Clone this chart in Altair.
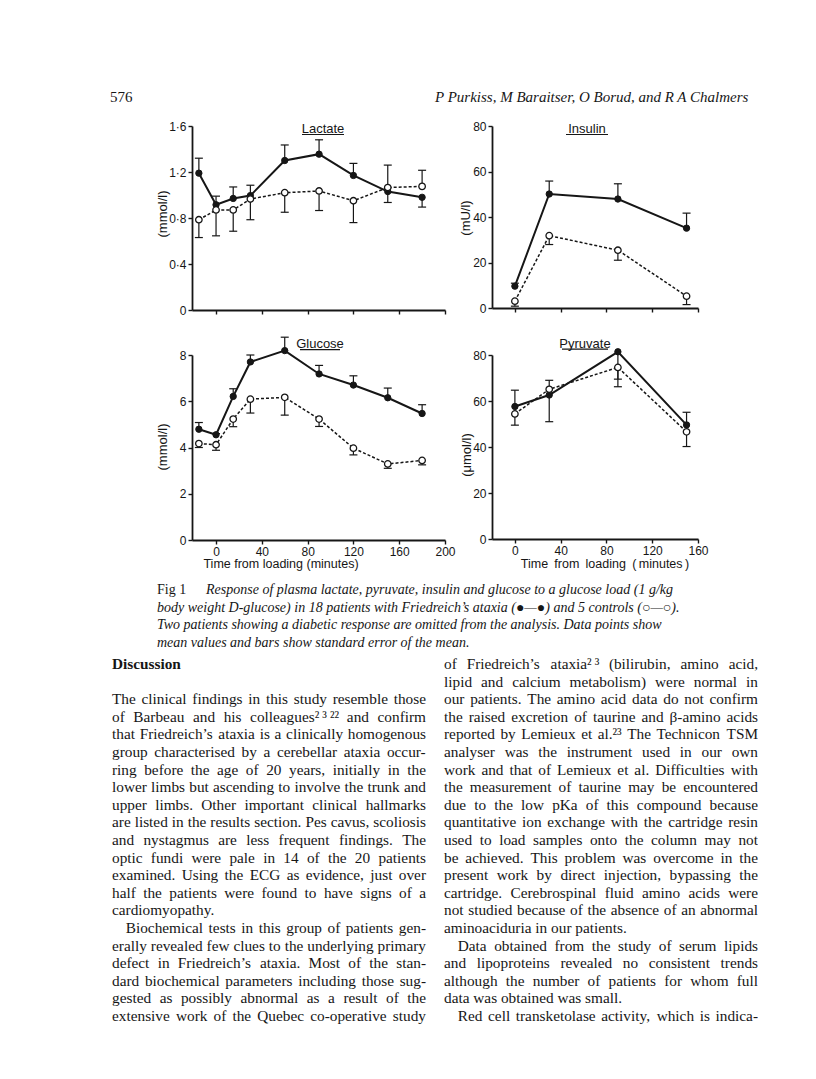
import altair as alt
import pandas as pd

# ---------------- data ----------------
lac_time = [-15, 0, 15, 30, 60, 90, 120, 150, 180]
lac_fa = [1.19, 0.915, 0.97, 0.995, 1.30, 1.355, 1.17, 1.03, 0.98]
lac_fa_err = [1.32, 0.99, 1.07, 1.085, 1.435, 1.48, 1.275, 0.935, 0.895]
lac_ct = [0.785, 0.87, 0.87, 0.965, 1.02, 1.035, 0.95, 1.065, 1.075]
lac_ct_err = [0.63, 0.645, 0.685, 0.785, 0.85, 0.865, 0.76, 1.26, 1.215]

glu_time = [-15, 0, 15, 30, 60, 90, 120, 150, 180]
glu_fa = [4.79, 4.55, 6.21, 7.70, 8.19, 7.18, 6.70, 6.15, 5.47]
glu_fa_err = [5.08, 4.6, 6.54, 8.0, 8.77, 7.55, 7.10, 6.57, 5.85]
glu_ct = [4.17, 4.12, 5.23, 6.09, 6.17, 5.23, 3.97, 3.29, 3.44]
glu_ct_err = [4.0, 3.88, 4.90, 5.49, 5.40, 4.91, 3.68, 3.10, 3.25]

ins_time = [0, 30, 90, 150]
ins_fa = [9.6, 50.1, 47.9, 35.1]
ins_fa_err = [10.9, 55.8, 54.6, 41.7]
ins_ct = [3.0, 31.8, 25.4, 5.2]
ins_ct_err = [0.8, 27.9, 21.0, 1.5]

pyr_time = [0, 30, 90, 150]
pyr_fa = [57.6, 62.6, 81.4, 49.6]
pyr_fa_err = [64.7, 51.0, 69.5, 55.1]
pyr_ct = [54.4, 65.1, 74.6, 46.6]
pyr_ct_err = [49.5, 69.0, 66.2, 40.2]

ticks_long = [0, 40, 80, 120, 160, 200]
ticks_short = [0, 40, 80, 120, 160]
lac_yticks = [0, 0.4, 0.8, 1.2, 1.6]
glu_yticks = [0, 2, 4, 6, 8]
ins_yticks = [0, 20, 40, 60, 80]
pyr_yticks = [0, 20, 40, 60, 80]

page_number = "576"
running_head = "P Purkiss, M Baraitser, O Borud, and R A Chalmers"
titles = ["Lactate", "Insulin", "Glucose", "Pyruvate"]
ylabels = ["(mmol/l)", "(mU/l)", "(mmol/l)", "(\u03bcmol/l)"]
xlabel = "Time from loading (minutes)"
xlabel_wide = "Time\u2002from\u2002loading\u2002(\u2009minutes\u2009)"

caption_head = "Fig 1"
caption_lines = [
    "Response of plasma lactate, pyruvate, insulin and glucose to a glucose load (1 g/kg",
    "body weight D-glucose) in 18 patients with Friedreich\u2019s ataxia (\u25cf\u2014\u25cf) and 5 controls (\u25cb\u2014\u25cb).",
    "Two patients showing a diabetic response are omitted from the analysis. Data points show",
    "mean values and bars show standard error of the mean.",
]
heading = "Discussion"
# "|" marks the last line of a paragraph (not justified); "\u00a0" marks an indent
left_col = [
    "The clinical findings in this study resemble those",
    "of Barbeau and his colleagues\u00b2\u202f\u00b3\u202f\u00b2\u00b2 and confirm",
    "that Friedreich\u2019s ataxia is a clinically homogenous",
    "group characterised by a cerebellar ataxia occur-",
    "ring before the age of 20 years, initially in the",
    "lower limbs but ascending to involve the trunk and",
    "upper limbs. Other important clinical hallmarks",
    "are listed in the results section. Pes cavus, scoliosis",
    "and nystagmus are less frequent findings. The",
    "optic fundi were pale in 14 of the 20 patients",
    "examined. Using the ECG as evidence, just over",
    "half the patients were found to have signs of a",
    "cardiomyopathy.|",
    "\u00a0Biochemical tests in this group of patients gen-",
    "erally revealed few clues to the underlying primary",
    "defect in Friedreich\u2019s ataxia. Most of the stan-",
    "dard biochemical parameters including those sug-",
    "gested as possibly abnormal as a result of the",
    "extensive work of the Quebec co-operative study",
]
right_col = [
    "of Friedreich\u2019s ataxia\u00b2\u202f\u00b3 (bilirubin, amino acid,",
    "lipid and calcium metabolism) were normal in",
    "our patients. The amino acid data do not confirm",
    "the raised excretion of taurine and \u03b2-amino acids",
    "reported by Lemieux et al.\u00b2\u00b3 The Technicon TSM",
    "analyser was the instrument used in our own",
    "work and that of Lemieux et al. Difficulties with",
    "the measurement of taurine may be encountered",
    "due to the low pKa of this compound because",
    "quantitative ion exchange with the cartridge resin",
    "used to load samples onto the column may not",
    "be achieved. This problem was overcome in the",
    "present work by direct injection, bypassing the",
    "cartridge. Cerebrospinal fluid amino acids were",
    "not studied because of the absence of an abnormal",
    "aminoaciduria in our patients.|",
    "\u00a0Data obtained from the study of serum lipids",
    "and lipoproteins revealed no consistent trends",
    "although the number of patients for whom full",
    "data was obtained was small.|",
    "\u00a0Red cell transketolase activity, which is indica-",
]

# ---------------- helpers ----------------
INK = "#161616"
SANS = "Liberation Sans"
SERIF = "Liberation Serif"
one = pd.DataFrame({"k": [0]})

# Times (Liberation Serif) advance widths, in em
_W = {" ": .25, "\u00a0": .25, "\u202f": .17, "!": .333, "(": .333, ")": .333, ",": .25,
      "-": .333, ".": .25, "/": .278, ":": .278, ";": .278, "\u2019": .333, "'": .18,
      "\u00b2": .3, "\u00b3": .3, "\u03b2": .5}
for ch in "0123456789":
    _W[ch] = .5
for ch, w in zip("ABCDEFGHIJKLMNOPQRSTUVWXYZ",
                 [.722, .667, .667, .722, .611, .556, .722, .722, .333, .389, .722, .611, .889,
                  .722, .722, .556, .722, .667, .556, .611, .722, .722, .944, .722, .722, .611]):
    _W[ch] = w
for ch, w in zip("abcdefghijklmnopqrstuvwxyz",
                 [.444, .5, .444, .5, .444, .333, .5, .5, .278, .278, .5, .278, .778,
                  .5, .5, .5, .5, .333, .389, .278, .5, .5, .722, .5, .5, .444]):
    _W[ch] = w


def word_width(s, size):
    return sum(_W.get(c, .5) for c in s) * size


def typeset(lines, x0, y0, width, size, lead, first_row=0):
    """Justify lines into word records (x, y) like the printed column."""
    rows = []
    for i, raw in enumerate(lines):
        last = raw.endswith("|")
        s = raw.rstrip("|")
        indent = 0.0
        if s.startswith("\u00a0"):
            indent = size * 0.9
            s = s.lstrip("\u00a0")
        words = s.split(" ")
        widths = [word_width(w, size) for w in words]
        if last or len(words) == 1:
            gap = 0.25 * size
        else:
            gap = (width - indent - sum(widths)) / (len(words) - 1)
        x = x0 + indent
        y = y0 + (i + first_row) * lead
        for w, wd in zip(words, widths):
            rows.append({"w": w, "px": x, "py": y})
            x += wd + gap
    return rows


def txt(text, x, y, size=13, font=SANS, align="left", baseline="middle",
        angle=0, style="normal", weight="normal"):
    kw = dict(fontSize=size, font=font, align=align, baseline=baseline,
              color=INK, fontStyle=style, fontWeight=weight)
    if angle:
        kw["angle"] = angle
    return alt.Chart(one).mark_text(**kw).encode(
        x=alt.value(x), y=alt.value(y), text=alt.value(text))


def hline(x1, x2, y, w=1.2, opacity=1):
    return alt.Chart(one).mark_rule(color=INK, strokeWidth=w, strokeOpacity=opacity).encode(
        x=alt.value(x1), x2=alt.value(x2), y=alt.value(y))


def panel(t, fa, fa_e, ct, ct_e, xdom, xticks, xlabels, ydom, yticks, w, h,
          extra, ylabel_expr=None):
    df = pd.DataFrame({
        "t": t + t,
        "v": fa + ct,
        "e": fa_e + ct_e,
        "g": ["p"] * len(t) + ["c"] * len(t),
    })
    xs = alt.Scale(domain=xdom, nice=False, zero=False)
    ys = alt.Scale(domain=ydom, nice=False, zero=False)
    xa = alt.Axis(values=xticks, labels=xlabels, title=None, grid=False)
    ya_kw = dict(values=yticks, title=None, grid=False)
    if ylabel_expr:
        ya_kw["labelExpr"] = ylabel_expr
    ya = alt.Axis(**ya_kw)

    def X():
        return alt.X("t:Q", scale=xs, axis=xa)

    def Y(f="v"):
        return alt.Y(f + ":Q", scale=ys, axis=ya)

    base = alt.Chart(df)
    pat = base.transform_filter("datum.g == 'p'")
    con = base.transform_filter("datum.g == 'c'")
    layers = [
        con.mark_line(color=INK, strokeWidth=1.5, strokeDash=[3, 2]).encode(X(), Y()),
        pat.mark_line(color=INK, strokeWidth=2).encode(X(), Y()),
        base.mark_rule(color=INK, strokeWidth=1.2).encode(X(), Y(), alt.Y2("e:Q")),
        base.mark_rule(color=INK, strokeWidth=1.2, xOffset=-4, x2Offset=4).encode(
            X(), alt.X2("t:Q"), Y("e")),
        pat.mark_point(shape="circle", filled=True, fill=INK, stroke=INK,
                       strokeWidth=1, opacity=1, size=40).encode(X(), Y()),
        con.mark_point(shape="circle", filled=True, fill="white", stroke=INK,
                       strokeWidth=1.3, opacity=1, size=42).encode(X(), Y()),
    ]
    return alt.layer(*layers, *extra).properties(width=w, height=h)


# ---------------- panels ----------------
lac_extra = [
    hline(-184, -183, -118, opacity=0),  # page anchor (top-left corner)
    txt(page_number, -82, -24, size=15, font=SERIF, baseline="alphabetic"),
    txt(running_head, 243, -24, size=15, font=SERIF, style="italic", baseline="alphabetic"),
    txt(titles[0], 131, 6.5, size=13, align="center", baseline="alphabetic"),
    hline(110, 152, 8.5),
    txt(ylabels[0], -29, 88, size=13, align="center", angle=270),
]
lactate = panel(lac_time, lac_fa, lac_fa_err, lac_ct, lac_ct_err,
                [-21, 200], ticks_long, False, [0, 1.6], lac_yticks, 253, 184,
                lac_extra,
                ylabel_expr="datum.value == 0 ? '0' : replace(format(datum.value, '.1f'), '.', '\u00b7')")

ins_extra = [
    txt(titles[1], 95, 6.7, size=13, align="center", baseline="alphabetic"),
    hline(74, 116, 8.5),
    txt(ylabels[1], -26, 92, size=13, align="center", angle=270),
]
insulin = panel(ins_time, ins_fa, ins_fa_err, ins_ct, ins_ct_err,
                [-20, 160], ticks_short, False, [0, 80], ins_yticks, 206, 182,
                ins_extra)

LEAD = 17.6
BODY = 15.3
glu_extra = [
    txt(titles[2], 128, -6.7, size=13, align="center", baseline="alphabetic"),
    hline(108, 148, -5.3),
    txt(ylabels[2], -29, 92, size=13, align="center", angle=270),
    txt(xlabel, 89, 209, size=12.5, align="center"),
    txt(caption_head, -35, 235, size=14, font=SERIF),
    txt(caption_lines[0], 14, 235, size=14, font=SERIF, style="italic"),
]
for i, line in enumerate(caption_lines[1:], start=1):
    glu_extra.append(txt(line, -35, 235 + i * LEAD, size=14, font=SERIF, style="italic"))
glu_extra.append(txt(heading, -80, 309, size=BODY, font=SERIF, weight="bold"))
glucose_core = panel(glu_time, glu_fa, glu_fa_err, glu_ct, glu_ct_err,
                     [-21, 200], ticks_long, True, [0, 8], glu_yticks, 253, 185,
                     glu_extra)

words = pd.DataFrame(
    typeset(left_col, -80, 309, 314, BODY, LEAD, first_row=2)
    + typeset(right_col, 252, 309, 314, BODY, LEAD)
)
body_text = alt.Chart(words).mark_text(
    font=SERIF, fontSize=BODY, align="left", baseline="middle", color=INK
).encode(
    x=alt.X("px:Q", scale=None, axis=None),
    y=alt.Y("py:Q", scale=None, axis=None),
    text="w:N",
)
glucose = alt.layer(glucose_core, body_text).resolve_scale(
    x="independent", y="independent").properties(width=253, height=185)

pyr_extra = [
    txt(titles[3], 93, -7.3, size=13, align="center", baseline="alphabetic"),
    hline(70, 116, -5.8),
    txt(ylabels[3], -25, 100, size=13, align="center", angle=270),
    txt(xlabel_wide, 113, 209, size=12.5, align="center"),
]
pyruvate = panel(pyr_time, pyr_fa, pyr_fa_err, pyr_ct, pyr_ct_err,
                 [-20, 160], ticks_short, True, [0, 80], pyr_yticks, 206, 184,
                 pyr_extra)

chart = alt.concat(
    lactate, insulin, glucose, pyruvate,
    columns=2, spacing={"row": 45, "column": 47}, bounds="flush",
).properties(
    padding=0, background="white"
).configure_axis(
    domainColor=INK, domainWidth=1.8, tickColor=INK, tickWidth=1.4, tickSize=4,
    labelColor=INK, labelFont=SANS, labelFontSize=12, labelPadding=2,
    labelFlush=False, labelOverlap=False,
).configure_view(stroke=None)

chart.save("out.html", embed_options={"renderer": "svg", "actions": False})
